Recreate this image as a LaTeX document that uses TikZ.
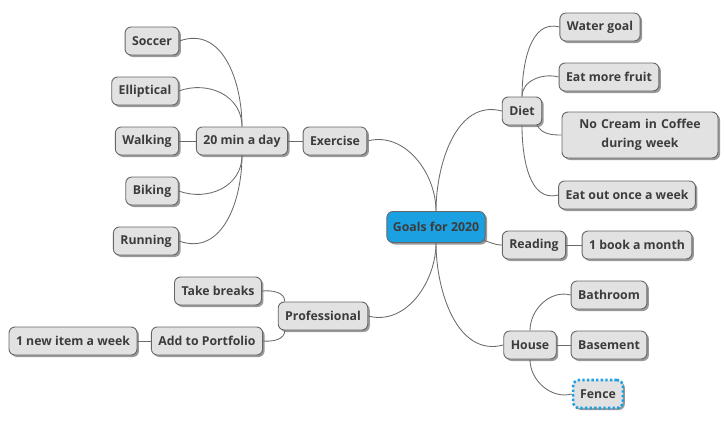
\documentclass[tikz,border=0pt]{standalone}
\usepackage{fontspec}
\setmainfont{Open Sans}
\usetikzlibrary{shadows}
\definecolor{boxfill}{HTML}{E2E2E2}
\definecolor{boxline}{HTML}{666666}
\definecolor{txt}{HTML}{3C3C3C}
\definecolor{rootfill}{HTML}{1BA1E2}
\definecolor{edgecol}{HTML}{6A6A6A}
\begin{document}
\begin{tikzpicture}[x=1pt,y=1pt,
  mmnode/.style={draw=boxline, line width=0.9pt, fill=boxfill, rounded corners=6pt,
    text=txt, font=\fontsize{12.3}{19}\selectfont\bfseries, inner xsep=7pt, inner ysep=2pt,
    minimum height=28pt, align=center,
    drop shadow={shadow xshift=2pt, shadow yshift=-2pt, opacity=0.4, fill=black}},
  rootnode/.style={mmnode, fill=rootfill, minimum height=31pt, inner xsep=6pt},
  fencenode/.style={mmnode, draw=rootfill, line width=2.6pt, dash pattern=on 2.4pt off 2.2pt},
  link/.style={draw=edgecol, line width=0.85pt}]
\useasboundingbox (0,0) rectangle (724,-423);
% nodes
\node[rootnode] (g) at (436,-227) {Goals for 2020};
\node[mmnode] (ex) at (335,-141) {Exercise};
\node[mmnode] (tw) at (242,-141) {20 min a day};
\node[mmnode] (so) at (152,-41) {Soccer};
\node[mmnode] (el) at (145,-91) {Elliptical};
\node[mmnode] (wa) at (147,-141) {Walking};
\node[mmnode] (bi) at (152,-191) {Biking};
\node[mmnode] (ru) at (146,-241) {Running};
\node[mmnode] (pr) at (323,-316) {Professional};
\node[mmnode] (tb) at (218,-291) {Take breaks};
\node[mmnode] (ap) at (207,-341) {Add to Portfolio};
\node[mmnode] (ni) at (73,-341) {1 new item a week};
\node[mmnode] (dt) at (522,-111) {Diet};
\node[mmnode] (wg) at (600,-27) {Water goal};
\node[mmnode] (ef) at (609,-77) {Eat more fruit};
\node[mmnode, text width=142pt, minimum height=46pt] (nc) at (640,-135) {No Cream in Coffee\\during week};
\node[mmnode] (eo) at (627,-195) {Eat out once a week};
\node[mmnode] (rd) at (534,-245) {Reading};
\node[mmnode] (bm) at (637,-245) {1 book a month};
\node[mmnode] (hs) at (530,-345) {House};
\node[mmnode] (ba) at (609,-295) {Bathroom};
\node[mmnode] (bs) at (609,-345) {Basement};
\node[fencenode] (fe) at (598,-394) {Fence};
% links
\path[link] (g.north) to[out=90, in=15] (ex.east);
\path[link] (g.north) to[out=90, in=165] (dt.west);
\path[link] (g.south) to[out=-90, in=-15] (pr.east);
\path[link] (g.south) to[out=-90, in=195] (hs.west);
\path[link] ([xshift=-3pt,yshift=3pt]g.south east) to[out=-15, in=180] (rd.west);
\path[link] (ex.west) -- (tw.east);
\path[link] (tw.north) to[out=90, in=20, looseness=1.1] (so.east);
\path[link] (tw.north) to[out=90, in=20, looseness=1.1] (el.east);
\path[link] (tw.west) -- (wa.east);
\path[link] (tw.south) to[out=-90, in=-20, looseness=1.1] (bi.east);
\path[link] (tw.south) to[out=-90, in=-20, looseness=1.1] (ru.east);
\path[link] ([xshift=7pt]pr.north west) to[out=90, in=5] (tb.east);
\path[link] ([xshift=7pt]pr.south west) to[out=-90, in=-5] (ap.east);
\path[link] (ap.west) -- (ni.east);
\path[link] (dt.north) to[out=90, in=165] (wg.west);
\path[link] (dt.north) to[out=90, in=165] (ef.west);
\path[link] ([xshift=-5pt]dt.south east) to[out=-60, in=180] (nc.west);
\path[link] (dt.south) to[out=-90, in=195] (eo.west);
\path[link] (rd.east) -- (bm.west);
\path[link] (hs.north) to[out=90, in=165] (ba.west);
\path[link] (hs.east) -- (bs.west);
\path[link] (hs.south) to[out=-90, in=195] (fe.west);
\end{tikzpicture}
\end{document}
